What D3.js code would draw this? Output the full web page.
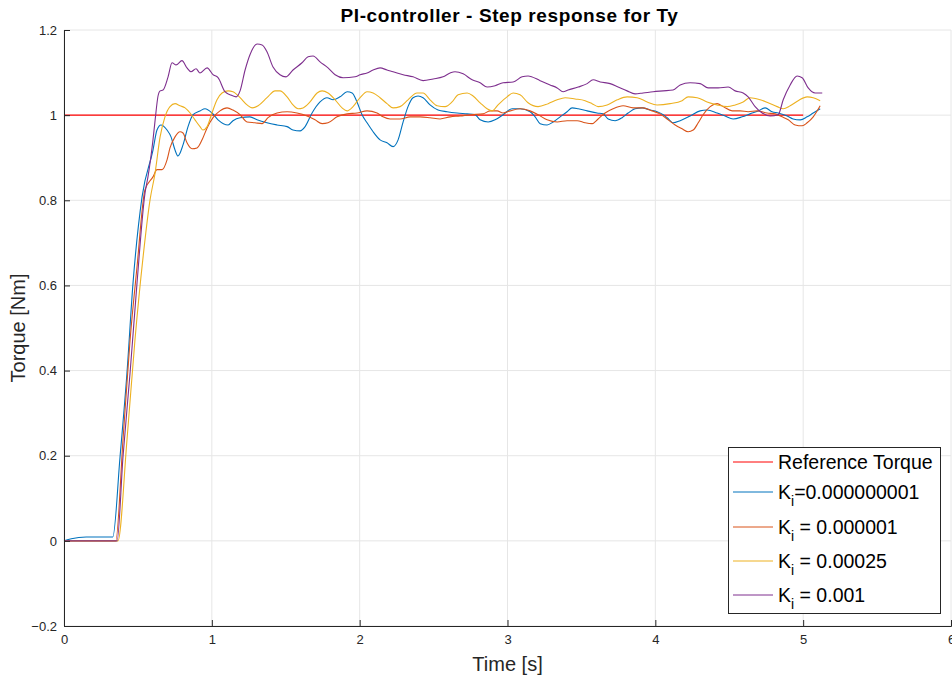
<!DOCTYPE html>
<html>
<head>
<meta charset="utf-8">
<script src="https://cdn.jsdelivr.net/npm/d3@7"></script>
<style>
  body { margin: 0; background: #fff; }
  svg { display: block; font-family: "Liberation Sans", Arial, sans-serif; }
</style>
</head>
<body>
<svg id="chart" width="952" height="677"></svg>
<script>
// step response data, [time s, torque Nm]
const refTorque = [[0, 1], [5.0, 1]]
const kiTiny = [[0,0],[0.05,0.005],[0.15,0.009],[0.33,0.009],[0.379,0.197],[0.426,0.395],[0.467,0.606],[0.528,0.808],[0.602,0.918],[0.629,0.965],[0.656,0.977],[0.697,0.965],[0.724,0.949],[0.751,0.918],[0.771,0.904],[0.805,0.930],[0.839,0.973],[0.873,1.001],[0.920,1.010],[0.954,1.015],[1.001,1.005],[1.042,0.989],[1.110,0.977],[1.143,0.987],[1.191,0.994],[1.258,0.996],[1.306,0.989],[1.373,0.982],[1.441,0.977],[1.509,0.973],[1.549,0.965],[1.597,0.963],[1.631,0.973],[1.678,1.005],[1.732,1.031],[1.779,1.041],[1.820,1.036],[1.867,1.043],[1.915,1.055],[1.949,1.052],[1.982,1.031],[2.016,1.001],[2.050,0.982],[2.091,0.961],[2.138,0.942],[2.185,0.935],[2.226,0.926],[2.260,0.942],[2.294,0.984],[2.327,1.020],[2.361,1.041],[2.395,1.045],[2.429,1.041],[2.476,1.024],[2.530,1.012],[2.591,1.008],[2.659,1.005],[2.727,1.003],[2.781,1.001],[2.815,0.989],[2.869,0.984],[2.916,0.989],[2.970,1.001],[3.031,1.015],[3.085,1.015],[3.153,1.008],[3.187,0.996],[3.221,0.980],[3.268,0.977],[3.309,0.984],[3.356,0.996],[3.403,1.008],[3.437,1.017],[3.478,1.015],[3.539,1.010],[3.606,1.005],[3.647,1.003],[3.681,0.991],[3.728,0.987],[3.775,0.994],[3.816,1.005],[3.863,1.015],[3.911,1.017],[3.965,1.012],[4.012,1.008],[4.053,1.001],[4.080,0.994],[4.120,0.982],[4.168,0.987],[4.235,0.998],[4.303,1.010],[4.350,1.012],[4.418,1.005],[4.472,0.998],[4.526,0.991],[4.587,0.996],[4.641,1.003],[4.696,1.010],[4.743,1.017],[4.790,1.008],[4.831,1.005],[4.892,0.998],[4.932,0.991],[4.980,0.989],[5.027,0.996],[5.068,1.005],[5.115,1.015]]
const kiSmall = [[0,0],[0.35,0.0],[0.399,0.237],[0.447,0.472],[0.494,0.644],[0.548,0.825],[0.602,0.855],[0.629,0.872],[0.663,0.872],[0.697,0.895],[0.717,0.923],[0.751,0.949],[0.785,0.961],[0.805,0.958],[0.832,0.935],[0.866,0.921],[0.900,0.923],[0.934,0.942],[0.968,0.970],[1.008,0.994],[1.055,1.010],[1.103,1.017],[1.143,1.012],[1.191,1.001],[1.238,0.984],[1.292,0.982],[1.340,0.980],[1.380,0.994],[1.441,1.005],[1.509,1.008],[1.576,1.005],[1.644,0.998],[1.698,0.989],[1.746,0.980],[1.786,0.982],[1.847,0.996],[1.915,1.003],[1.982,1.005],[2.050,1.010],[2.118,1.005],[2.158,0.996],[2.206,0.991],[2.273,0.991],[2.341,0.996],[2.409,0.996],[2.476,0.994],[2.544,0.991],[2.612,0.996],[2.679,0.998],[2.747,1.001],[2.835,1.003],[2.882,1.010],[2.930,1.010],[2.970,1.005],[3.018,1.010],[3.085,1.015],[3.153,1.010],[3.207,1.001],[3.268,0.989],[3.336,0.984],[3.403,0.987],[3.471,0.987],[3.525,0.982],[3.572,0.980],[3.613,0.991],[3.660,1.005],[3.714,1.015],[3.782,1.022],[3.850,1.017],[3.917,1.017],[3.978,1.010],[4.032,1.003],[4.087,0.989],[4.134,0.977],[4.181,0.968],[4.222,0.961],[4.256,0.965],[4.290,0.982],[4.323,1.001],[4.371,1.020],[4.418,1.027],[4.459,1.020],[4.520,1.010],[4.574,1.010],[4.628,1.008],[4.689,1.010],[4.756,1.005],[4.811,1.003],[4.858,0.996],[4.899,0.989],[4.946,0.977],[4.993,0.975],[5.027,0.982],[5.068,0.996],[5.115,1.022]]
const kiMid = [[0,0],[0.365,0],[0.426,0.237],[0.480,0.472],[0.535,0.667],[0.582,0.801],[0.616,0.864],[0.650,0.949],[0.683,0.996],[0.717,1.020],[0.751,1.027],[0.785,1.022],[0.819,1.017],[0.853,1.005],[0.886,0.989],[0.920,0.973],[0.940,0.965],[0.968,0.973],[1.001,1.005],[1.035,1.036],[1.069,1.052],[1.110,1.057],[1.143,1.055],[1.191,1.041],[1.238,1.024],[1.272,1.017],[1.313,1.022],[1.373,1.041],[1.428,1.057],[1.461,1.057],[1.509,1.043],[1.549,1.024],[1.583,1.015],[1.617,1.017],[1.664,1.031],[1.712,1.052],[1.746,1.057],[1.786,1.052],[1.834,1.036],[1.881,1.017],[1.915,1.010],[1.955,1.020],[2.003,1.041],[2.050,1.055],[2.091,1.052],[2.138,1.041],[2.185,1.027],[2.226,1.017],[2.273,1.020],[2.327,1.036],[2.388,1.052],[2.429,1.052],[2.476,1.036],[2.524,1.022],[2.578,1.020],[2.625,1.031],[2.666,1.048],[2.727,1.052],[2.767,1.045],[2.815,1.029],[2.862,1.015],[2.896,1.010],[2.936,1.024],[2.997,1.043],[3.038,1.052],[3.085,1.048],[3.139,1.029],[3.207,1.020],[3.275,1.027],[3.336,1.036],[3.390,1.041],[3.457,1.038],[3.525,1.034],[3.572,1.027],[3.613,1.020],[3.674,1.024],[3.742,1.036],[3.809,1.043],[3.877,1.041],[3.945,1.031],[4.012,1.024],[4.100,1.027],[4.181,1.034],[4.222,1.043],[4.283,1.041],[4.350,1.031],[4.418,1.024],[4.486,1.020],[4.540,1.024],[4.594,1.031],[4.641,1.041],[4.709,1.036],[4.763,1.029],[4.824,1.020],[4.865,1.015],[4.912,1.022],[4.966,1.034],[5.027,1.043],[5.068,1.041],[5.115,1.034]]
const kiLarge = [[0,0],[0.359,0.0],[0.399,0.197],[0.447,0.395],[0.494,0.606],[0.548,0.817],[0.568,0.855],[0.602,0.942],[0.616,0.987],[0.636,1.045],[0.650,1.057],[0.670,1.059],[0.704,1.090],[0.731,1.123],[0.758,1.118],[0.798,1.128],[0.832,1.111],[0.859,1.102],[0.893,1.109],[0.920,1.099],[0.968,1.111],[1.008,1.095],[1.042,1.088],[1.089,1.055],[1.123,1.048],[1.164,1.043],[1.191,1.057],[1.225,1.106],[1.258,1.142],[1.306,1.167],[1.340,1.165],[1.373,1.149],[1.414,1.113],[1.461,1.095],[1.502,1.090],[1.549,1.106],[1.610,1.123],[1.651,1.137],[1.685,1.139],[1.732,1.125],[1.786,1.111],[1.834,1.095],[1.888,1.088],[1.969,1.090],[2.003,1.095],[2.050,1.099],[2.091,1.106],[2.138,1.111],[2.185,1.106],[2.226,1.102],[2.294,1.095],[2.361,1.090],[2.429,1.081],[2.497,1.085],[2.564,1.090],[2.612,1.099],[2.645,1.102],[2.700,1.097],[2.761,1.083],[2.815,1.076],[2.862,1.066],[2.916,1.069],[2.970,1.076],[3.038,1.078],[3.099,1.090],[3.139,1.092],[3.221,1.081],[3.288,1.071],[3.336,1.064],[3.376,1.055],[3.410,1.059],[3.478,1.066],[3.539,1.074],[3.579,1.083],[3.627,1.078],[3.694,1.074],[3.748,1.066],[3.809,1.057],[3.863,1.050],[3.917,1.052],[3.985,1.055],[4.053,1.057],[4.120,1.059],[4.168,1.071],[4.235,1.076],[4.303,1.074],[4.357,1.064],[4.425,1.064],[4.493,1.066],[4.540,1.057],[4.594,1.052],[4.628,1.043],[4.675,1.020],[4.723,1.005],[4.777,0.998],[4.831,1.001],[4.865,1.036],[4.912,1.071],[4.959,1.092],[4.993,1.088],[5.034,1.064],[5.081,1.052],[5.129,1.052]]

const xTicks = [0, 1, 2, 3, 4, 5, 6]
const yTicks = [-0.2, 0, 0.2, 0.4, 0.6, 0.8, 1, 1.2]
const seriesNames = ['Reference Torque', 'K|=0.000000001', 'K| = 0.000001', 'K| = 0.00025', 'K| = 0.001']
const seriesColors = ['#ff0000', '#0072bd', '#d95319', '#edb120', '#7e2f8e']
const seriesData = [refTorque, kiTiny, kiSmall, kiMid, kiLarge]

const svg = d3.select('#chart')
const grid = { left: 64, right: 951, top: 30, bottom: 626 }
const axisColor = '#262626'

let scaleX = d3.scaleLinear().domain([0, 6]).range([grid.left, grid.right])
let scaleY = d3.scaleLinear().domain([-0.2, 1.2]).range([grid.bottom, grid.top])

// grid lines
let gridG = svg.append('g').attr('class', 'grid')
gridG.selectAll('line.gx').data(xTicks).join('line')
  .attr('x1', d => scaleX(d)).attr('x2', d => scaleX(d))
  .attr('y1', grid.top).attr('y2', grid.bottom)
  .attr('stroke', '#e6e6e6').attr('stroke-width', 1)
gridG.selectAll('line.gy').data(yTicks).join('line')
  .attr('y1', d => scaleY(d)).attr('y2', d => scaleY(d))
  .attr('x1', grid.left).attr('x2', grid.right)
  .attr('stroke', '#e6e6e6').attr('stroke-width', 1)

// series
let line = d3.line()
  .x(d => scaleX(d[0]))
  .y(d => scaleY(d[1]))
  .curve(d3.curveMonotoneX)

let plot = svg.append('g').attr('class', 'series')
seriesData.forEach((s, i) => {
  plot.append('path')
    .attr('d', line(s))
    .attr('fill', 'none')
    .attr('stroke', seriesColors[i])
    .attr('stroke-width', i === 0 ? 1.3 : 1.1)
})

// axes, ticks point inward like matlab
let xAxis = d3.axisBottom(scaleX).tickValues(xTicks).tickSize(-6).tickPadding(11).tickFormat(d3.format('d'))
let yAxis = d3.axisLeft(scaleY).tickValues(yTicks).tickSize(-6).tickPadding(11).tickFormat(d => d3.format('~g')(d))

let gx = svg.append('g').attr('transform', `translate(0,${grid.bottom})`).call(xAxis)
let gy = svg.append('g').attr('transform', `translate(${grid.left},0)`).call(yAxis)
;[gx, gy].forEach(g => {
  g.select('.domain').attr('stroke', axisColor).attr('stroke-width', 1)
  g.selectAll('.tick line').attr('stroke', axisColor)
  g.selectAll('.tick text').attr('fill', axisColor).style('font-size', '13px')
    .style('font-family', '"Liberation Sans", Arial, sans-serif')
})
gx.selectAll('.tick text').attr('dy', '0.71em').attr('y', 9)
gy.selectAll('.tick text').attr('x', -7)

// labels
svg.append('text')
  .attr('x', (grid.left + grid.right) / 2).attr('y', 671)
  .attr('text-anchor', 'middle').attr('fill', axisColor)
  .style('font-size', '20px').text('Time [s]')
svg.append('text')
  .attr('transform', `translate(25,${(grid.top + grid.bottom) / 2}) rotate(-90)`)
  .attr('text-anchor', 'middle').attr('fill', axisColor)
  .style('font-size', '20px').text('Torque [Nm]')
svg.append('text')
  .attr('x', (grid.left + grid.right) / 2 + 2).attr('y', 22)
  .attr('text-anchor', 'middle').attr('fill', '#000')
  .style('font-size', '19px').style('font-weight', 'bold').style('letter-spacing', '0.6px')
  .text('PI-controller - Step response for Ty')

// legend
let lg = svg.append('g').attr('class', 'legend')
lg.append('rect')
  .attr('x', 728.5).attr('y', 447.5).attr('width', 212).attr('height', 166)
  .attr('fill', '#fff').attr('stroke', axisColor).attr('stroke-width', 1)
let rowY = [462, 492, 527, 561, 595]
seriesNames.forEach((name, i) => {
  let row = lg.append('g').attr('transform', `translate(0,${rowY[i]})`)
  row.append('line').attr('x1', 733).attr('x2', 773).attr('y1', 0).attr('y2', 0)
    .attr('stroke', seriesColors[i]).attr('stroke-width', 1)
  let t = row.append('text').attr('x', 778).attr('y', 7)
    .attr('fill', '#000').style('font-size', '19.5px')
  if (name.indexOf('|') < 0) {
    t.text(name)
  } else {
    let parts = name.split('|')
    t.append('tspan').text(parts[0])
    t.append('tspan').attr('dy', 7).style('font-size', '14px').text('i')
    t.append('tspan').attr('dy', -7).text(parts[1])
  }
})
</script>
</body>
</html>
